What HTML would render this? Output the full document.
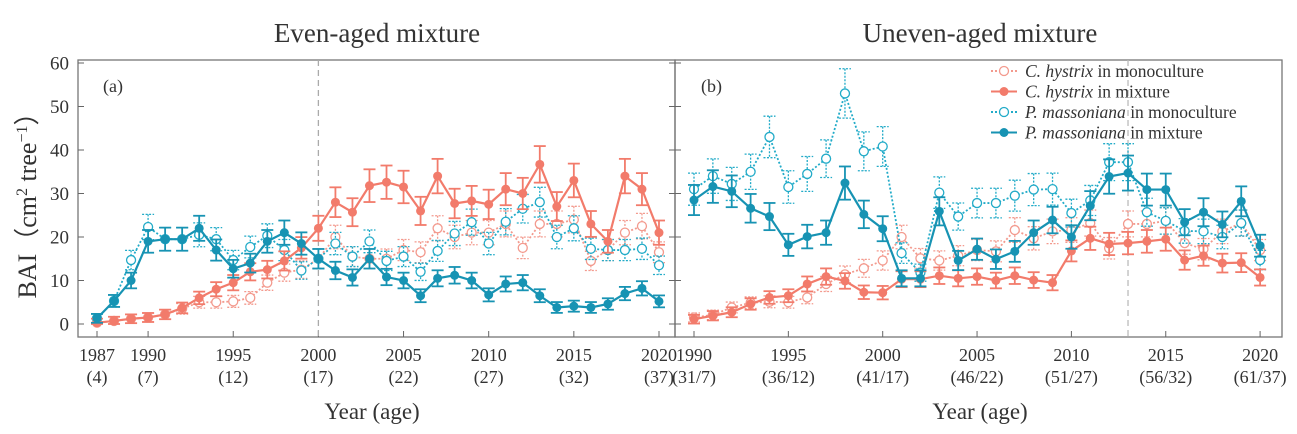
<!DOCTYPE html>
<html><head><meta charset="utf-8"><style>
html,body{margin:0;padding:0;background:#fff}
svg{display:block}
text{font-family:"Liberation Serif",serif;fill:#333}
</style></head><body>
<svg id="s" width="1297" height="434" viewBox="0 0 1297 434" xmlns="http://www.w3.org/2000/svg"></svg>
<script>
const S=document.getElementById('s');let h='';
const SAL='#f27b6b',SALL='#f39a8e',TEA='#1793b3',TEAL='#22abc8';
const Y=v=>324-v*4.35;
h+='<rect x="78" y="60" width="597" height="277" fill="none" stroke="#777" stroke-width="1.3"/>';
h+='<rect x="675" y="60" width="607" height="277" fill="none" stroke="#777" stroke-width="1.3"/>';
for(let v=0;v<=60;v+=10){const y=Y(v);
h+=`<line x1="78" x2="84" y1="${y}" y2="${y}" stroke="#666"/><text x="69" y="${y+6.5}" font-size="19" text-anchor="end">${v}</text>`;
h+=`<line x1="669" x2="675" y1="${y}" y2="${y}" stroke="#666"/><line x1="675" x2="681" y1="${y}" y2="${y}" stroke="#666"/>`;}
const XL=yr=>97+(yr-1987)*17.03, XR=yr=>694+(yr-1990)*18.87;
[[1987,'(4)'],[1990,'(7)'],[1995,'(12)'],[2000,'(17)'],[2005,'(22)'],[2010,'(27)'],[2015,'(32)'],[2020,'(37)']].forEach(([yr,a])=>{const x=XL(yr);
h+=`<line x1="${x}" x2="${x}" y1="331" y2="337" stroke="#666"/><text x="${x}" y="361" font-size="18" text-anchor="middle">${yr}</text><text x="${x}" y="383" font-size="18" text-anchor="middle">${a}</text>`;});
[[1990,'(31/7)'],[1995,'(36/12)'],[2000,'(41/17)'],[2005,'(46/22)'],[2010,'(51/27)'],[2015,'(56/32)'],[2020,'(61/37)']].forEach(([yr,a])=>{const x=XR(yr);
h+=`<line x1="${x}" x2="${x}" y1="331" y2="337" stroke="#666"/><text x="${x}" y="361" font-size="18" text-anchor="middle">${yr}</text><text x="${x}" y="383" font-size="18" text-anchor="middle">${a}</text>`;});
h+=`<line x1="${XL(2000)}" x2="${XL(2000)}" y1="60" y2="337" stroke="#aaa" stroke-dasharray="6,4" stroke-width="1.3"/>`;
h+=`<line x1="${XR(2013)}" x2="${XR(2013)}" y1="60" y2="337" stroke="#bbb" stroke-dasharray="6,4" stroke-width="1.3"/>`;
function series(X,y0,vals,col,dotted,filled){
 let pts=vals.map((v,i)=>[X(y0+i),Y(v)]);let o='';
 vals.forEach((v,i)=>{const e=0.9+v*0.09;const x=pts[i][0];const a=Y(v+e),b=Y(Math.max(0,v-e));
  const da=dotted?' stroke-dasharray="2,1.5"':'';
  o+=`<g stroke="${col}" stroke-width="${dotted?1.3:1.8}"${da}><line x1="${x}" x2="${x}" y1="${a}" y2="${b}"/><line x1="${x-6}" x2="${x+6}" y1="${a}" y2="${a}"/><line x1="${x-6}" x2="${x+6}" y1="${b}" y2="${b}"/></g>`;});
 o+=`<polyline points="${pts.map(p=>p.join(',')).join(' ')}" fill="none" stroke="${col}" stroke-width="${dotted?1.8:2.2}" ${dotted?'stroke-dasharray="2,2"':''}/>`;
 pts.forEach(p=>{o+=filled?`<circle cx="${p[0]}" cy="${p[1]}" r="4.5" fill="${col}"/>`:`<circle cx="${p[0]}" cy="${p[1]}" r="4.5" fill="#fff" stroke="${col}" stroke-width="1.3"/>`;});
 return o;}
const Lcm=[0.3,0.7,1.2,1.5,2.2,3.7,6,8,9.5,12,12.5,14.5,17.5,22,28,25.7,31.8,32.6,31.5,26,34,27.7,28.3,27.5,31,30,36.7,27,33,23,19,34,31,21];
const Lco=[0.3,0.7,1.2,1.5,2.2,3.5,5,5,5.2,6,9.5,11.8,12.5,15,20,15.5,15,15,17,16.5,22,20,21,21,23,17.5,23,23,24,14.5,17,21,22.5,16.5];
const Lpm=[1.3,5.3,10,19,19.5,19.5,22,17,12.7,14,19,21,18.5,15,12.3,10.7,15,10.8,10,6.5,10.5,11.2,10,6.7,9.2,9.5,6.5,3.8,4.1,3.8,4.6,7,8.2,5.2];
const Lpo=[1.3,5.3,14.7,22.3,19.5,19.5,20.5,19.5,14.7,17.7,20.3,17,12.3,15,18.5,15.5,19,14.5,15.5,12,16.8,20.8,23.4,18.5,23.5,26.5,28,20,22,17.3,17,17,17.3,13.5];
h+=series(XL,1987,Lco,SALL,1,0)+series(XL,1987,Lpo,TEAL,1,0)+series(XL,1987,Lcm,SAL,0,1)+series(XL,1987,Lpm,TEA,0,1);
const Rpo=[31,34,32.2,35,43,31.5,34.5,38,53,39.7,40.8,16.3,11.8,30.2,24.7,27.8,27.8,29.5,30.9,31,25.5,28.4,37.2,37.2,25.7,23.7,21.4,21.3,20,23.2,14.7];
const Rpm=[28.5,31.6,30.5,26.6,24.7,18.2,20.1,21,32.4,25.2,21.9,10.5,10.5,25.9,14.6,17.2,14.9,16.7,21,23.9,20,27.2,33.9,34.7,30.9,30.9,23.4,25.7,22.9,28.2,18];
const Rcm=[1.1,1.9,2.7,4.6,6.1,6.5,9.2,10.9,9.9,7.3,7.2,10.3,10.3,11.1,10.5,10.9,10,11.1,10.1,9.5,16.8,19.7,18.4,18.6,19,19.5,14.7,15.7,14,14.1,10.7];
const Rco=[1.5,2.1,3.8,4.9,5.1,5,6.1,9.2,11.4,12.8,14.6,20,15.1,14.6,15.7,17,16.7,21.6,19.7,21.3,21.6,23.2,17.4,23,23,23.7,18.6,17.2,21.3,23.2,17];
h+=series(XR,1990,Rco,SALL,1,0)+series(XR,1990,Rpo,TEAL,1,0)+series(XR,1990,Rcm,SAL,0,1)+series(XR,1990,Rpm,TEA,0,1);
const L=[[SALL,0,'C. hystrix',' in monoculture'],[SAL,1,'C. hystrix',' in mixture'],[TEAL,0,'P. massoniana',' in monoculture'],[TEA,1,'P. massoniana',' in mixture']];
L.forEach((l,i)=>{const y=71+i*20.5;
h+=`<line x1="991" x2="1017" y1="${y}" y2="${y}" stroke="${l[0]}" stroke-width="2" ${l[1]?'':'stroke-dasharray="2,2"'}/>`;
h+=l[1]?`<circle cx="1004" cy="${y}" r="4.5" fill="${l[0]}"/>`:`<circle cx="1004" cy="${y}" r="4.5" fill="#fff" stroke="${l[0]}" stroke-width="1.3"/>`;
h+=`<text x="1025" y="${y+6}" font-size="17.5"><tspan font-style="italic">${l[2]}</tspan>${l[3]}</text>`;});
h+='<text x="103" y="92" font-size="18">(a)</text><text x="701" y="92" font-size="18">(b)</text>';
h+='<text x="377" y="42" font-size="27" text-anchor="middle">Even-aged mixture</text>';
h+='<text x="980" y="42" font-size="27" text-anchor="middle">Uneven-aged mixture</text>';
h+='<text x="372" y="419" font-size="23" text-anchor="middle">Year (age)</text>';
h+='<text x="980" y="419" font-size="23" text-anchor="middle">Year (age)</text>';
h+='<text transform="translate(36,199) rotate(-90)" font-size="26" text-anchor="middle">BAI（cm<tspan font-size="16" dy="-9">2</tspan><tspan dy="9"> tree</tspan><tspan font-size="16" dy="-9">−1</tspan><tspan dy="9">）</tspan></text>';
S.innerHTML=h;
</script>
</body></html>
